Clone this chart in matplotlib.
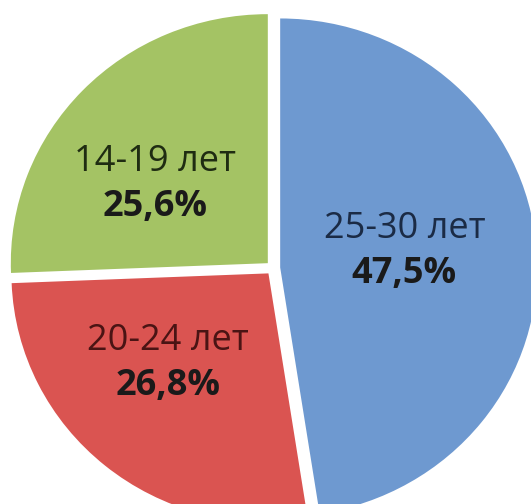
import numpy as np
import matplotlib
matplotlib.use("Agg")
from matplotlib import pyplot as plt

# data
categories = ["25-30 лет", "20-24 лет", "14-19 лет"]
shares = [47.5, 26.8, 25.6]
pct_labels = ["47,5%", "26,8%", "25,6%"]
colors = ["#6E99D0", "#DA5451", "#A4C364"]
label_colors = ["#1B2B45", "#4A1414", "#1F2C12"]

plt.rcParams['font.family'] = ['Open Sans', 'DejaVu Sans']

fig = plt.figure(figsize=(5.31, 5.04), dpi=100)
ax = fig.add_axes([0, 0, 1, 1])

# the original pie is slightly wider than tall
Rx, Ry = 257.0, 249.0   # radius in px
cx, cy = 273.0, 268.0   # centre in px from top-left

wedges, _ = ax.pie(shares, colors=colors, startangle=90, counterclock=False,
                   explode=[0.028] * 3, radius=1.0, frame=True,
                   wedgeprops=dict(linewidth=0))
ax.set_xlim(-cx / Rx, (531 - cx) / Rx)
ax.set_ylim(-(504 - cy) / Ry, cy / Ry)
ax.set_aspect("auto")
ax.axis("off")

# label distance and angle nudges per slice (in degrees)
dist = [0.49, 0.52, 0.55]
nudge = [5.2, -9.1, 6.5]
for w, cat, pct, lc, d, n in zip(wedges, categories, pct_labels, label_colors, dist, nudge):
    th = np.deg2rad((w.theta1 + w.theta2) / 2 + n)
    x = w.center[0] + d * np.cos(th)
    y = w.center[1] + d * np.sin(th)
    ax.annotate(cat, (x, y), xytext=(0, 13), textcoords="offset points",
                ha="center", va="center", fontsize=26, color=lc)
    ax.annotate(pct, (x, y), xytext=(0, -19.5), textcoords="offset points",
                ha="center", va="center", fontsize=26, fontweight="bold",
                color="#1A1A1A")

fig.savefig("out.png", dpi=100)
